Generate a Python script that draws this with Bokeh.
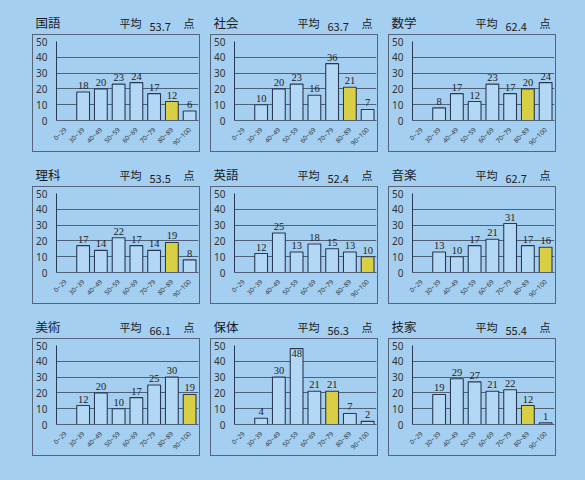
import math
from bokeh.plotting import figure
from bokeh.models import ColumnDataSource, Label, LabelSet, Range1d, FactorRange, Spacer
from bokeh.layouts import row, column
from bokeh.embed import file_html
from bokeh.resources import INLINE

categories = ["0~29", "30~39", "40~49", "50~59", "60~69", "70~79", "80~89", "90~100"]
subjects = ["国語", "社会", "数学", "理科", "英語", "音楽", "美術", "保体", "技家"]
averages = ["53.7", "63.7", "62.4", "53.5", "52.4", "62.7", "66.1", "56.3", "55.4"]

kokugo = [0, 18, 20, 23, 24, 17, 12, 6]
shakai = [0, 10, 20, 23, 16, 36, 21, 7]
sugaku = [0, 8, 17, 12, 23, 17, 20, 24]
rika = [0, 17, 14, 22, 17, 14, 19, 8]
eigo = [0, 12, 25, 13, 18, 15, 13, 10]
ongaku = [0, 13, 10, 17, 21, 31, 17, 16]
bijutsu = [0, 12, 20, 10, 17, 25, 30, 19]
hotai = [0, 4, 30, 48, 21, 21, 7, 2]
gika = [0, 19, 29, 27, 21, 22, 12, 1]
series = [kokugo, shakai, sugaku, rika, eigo, ongaku, bijutsu, hotai, gika]

highlight_bins = ["80~89", "80~89", "80~89", "80~89", "90~100", "90~100", "90~100", "70~79", "80~89"]
y_ticks = [0, 10, 20, 30, 40, 50]

BG = "#a5cff0"
INK = "#2a3852"
GRID = "#506078"
BAR = "#b2d8f5"
YELLOW = "#d9cf44"
TXT = "#1a1a1a"
JP = "Noto Sans CJK JP"
NUM = "Noto Sans"

PW = 168
HH = 24
BH = 118


def header(subj, avg):
    h = figure(width=PW, height=HH, output_backend="svg", toolbar_location=None,
               x_range=Range1d(0, 1), y_range=Range1d(0, 1),
               x_axis_location=None, y_axis_location=None,
               min_border_left=0, min_border_right=0, min_border_top=0,
               min_border_bottom=0, min_border=0,
               background_fill_color=BG, border_fill_color=BG,
               outline_line_color=None)
    h.grid.visible = False
    h.title.visible = False
    h.add_layout(Label(x=3, y=3, x_units="screen", y_units="screen", text=subj,
                       text_font=JP, text_font_size="12.5px", text_color=TXT))
    h.add_layout(Label(x=87, y=4, x_units="screen", y_units="screen", text="平均",
                       text_font=JP, text_font_size="11px", text_color=TXT))
    h.add_layout(Label(x=117, y=4, x_units="screen", y_units="screen", text=avg,
                       text_font=JP, text_font_size="11px", text_color=TXT))
    h.add_layout(Label(x=151, y=4, x_units="screen", y_units="screen", text="点",
                       text_font=JP, text_font_size="11px", text_color=TXT))
    return h


def chart(vals, hl):
    p = figure(width=PW, height=BH, output_backend="svg", toolbar_location=None,
               x_range=FactorRange(*categories), y_range=Range1d(0, 50),
               min_border_left=22, min_border_right=3, min_border_top=6,
               min_border_bottom=29, background_fill_color=BG, border_fill_color=BG,
               outline_line_color=None,
               styles={"border": "1px solid #55647a"})
    xs = [c for c, v in zip(categories, vals) if v > 0]
    tops = [v for v in vals if v > 0]
    fills = [YELLOW if c == hl else BAR for c in xs]
    offs = [3 if v <= 40 else -8 for v in tops]
    src = ColumnDataSource(dict(x=xs, top=tops, fill=fills, off=offs,
                                label=[str(v) for v in tops]))
    p.vbar(x="x", top="top", width=0.72, source=src, fill_color="fill",
           line_color=INK, line_width=1.1)
    p.add_layout(LabelSet(x="x", y="top", text="label", source=src, y_offset="off",
                          text_align="center", text_baseline="bottom",
                          text_font=NUM, text_font_size="10.5px", text_color="#222222"))
    p.yaxis.ticker = y_ticks
    p.yaxis.major_tick_line_color = None
    p.yaxis.minor_tick_line_color = None
    p.yaxis.axis_line_color = INK
    p.yaxis.major_label_text_font = NUM
    p.yaxis.major_label_text_font_size = "10px"
    p.yaxis.major_label_text_color = "#333333"
    p.yaxis.major_label_standoff = 3
    p.xaxis.axis_line_color = GRID
    p.xaxis.major_tick_line_color = None
    p.xaxis.minor_tick_line_color = None
    p.xaxis.major_label_orientation = math.pi / 4
    p.xaxis.major_label_text_font = NUM
    p.xaxis.major_label_text_font_size = "6.5px"
    p.xaxis.major_label_text_color = "#333333"
    p.xaxis.major_label_standoff = 2
    p.xgrid.grid_line_color = None
    p.ygrid.grid_line_color = GRID
    p.ygrid.grid_line_width = 1
    return p


panels = []
for subj, avg, vals, hl in zip(subjects, averages, series, highlight_bins):
    panels.append(column(row(header(subj, avg)), chart(vals, hl), spacing=0))

rows = [Spacer(width=10, height=0)]
for r in range(3):
    rows.append(row(Spacer(width=22, height=10), *panels[r * 3:(r + 1) * 3], spacing=10))
layout = column(*rows, spacing=10, styles={"background-color": BG})

html = file_html(layout, INLINE, title="成績分布")
html = html.replace("</head>", "<style>html, body { background-color: %s; }</style></head>" % BG, 1)
open("out.html", "w").write(html)
